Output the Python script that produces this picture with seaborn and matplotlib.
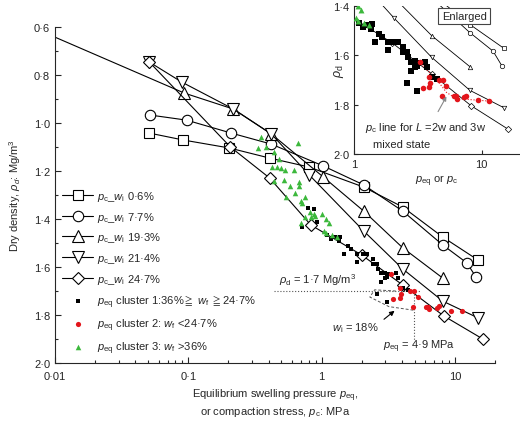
import matplotlib
matplotlib.use('Agg')
import matplotlib.pyplot as plt
import seaborn as sns
from matplotlib.ticker import FixedLocator, LogLocator, NullFormatter

sns.set_style('ticks')
plt.rcParams['font.family'] = ['Liberation Sans', 'DejaVu Sans']
plt.rcParams['mathtext.fontset'] = 'custom'
plt.rcParams['mathtext.rm'] = 'Liberation Sans'
plt.rcParams['mathtext.it'] = 'Liberation Sans:italic'
plt.rcParams['mathtext.bf'] = 'Liberation Sans:bold'
plt.rcParams['mathtext.fallback'] = 'stixsans'

# compaction curves: stress p_c (MPa) and dry density (Mg/m3)
pc_w06 = [0.051, 0.092, 0.203, 0.407, 0.80, 2.07, 4.06, 8.1, 14.9]
rho_w06 = [1.042, 1.071, 1.104, 1.146, 1.183, 1.267, 1.35, 1.475, 1.571]
pc_w77 = [0.052, 0.097, 0.21, 0.42, 1.03, 2.07, 4.06, 8.1, 12.3, 14.4]
rho_w77 = [0.967, 0.988, 1.042, 1.088, 1.179, 1.258, 1.367, 1.508, 1.583, 1.642]
pc_w193 = [0.005, 0.093, 0.218, 0.42, 1.03, 2.07, 4.06, 8.1]
rho_w193 = [0.57, 0.875, 0.942, 1.046, 1.225, 1.367, 1.52, 1.646]
pc_w214 = [0.051, 0.089, 0.218, 0.42, 0.81, 2.07, 4.06, 8.1, 14.9]
rho_w214 = [0.746, 0.829, 0.942, 1.046, 1.217, 1.45, 1.608, 1.742, 1.812]
pc_w247 = [0.051, 0.207, 0.407, 0.83, 2.0, 4.06, 8.26, 16.2]
rho_w247 = [0.746, 1.10, 1.229, 1.425, 1.55, 1.675, 1.804, 1.90]

# equilibrium swelling pressure clusters
c1_p = [0.707, 0.785, 0.87, 0.917, 1.1, 1.18, 1.26, 1.38, 1.36, 1.57, 1.65, 1.46,
        1.84, 2.05, 2.2, 1.84, 2.41, 2.41, 2.6, 2.64, 2.79, 3.0, 3.1, 2.79, 3.0,
        3.16, 3.59, 3.72, 2.6, 3.1, 4.06, 4.45]
c1_rho = [1.433, 1.354, 1.358, 1.413, 1.468, 1.485, 1.477, 1.473, 1.493, 1.514, 1.526, 1.546,
          1.546, 1.546, 1.546, 1.578, 1.566, 1.586, 1.586, 1.607, 1.627, 1.623, 1.643, 1.663, 1.647,
          1.631, 1.627, 1.647, 1.712, 1.745, 1.688, 1.696]
c2_p = [3.3, 3.9, 3.95, 3.9, 3.45, 4.6, 4.95, 5.3, 4.85, 6.1, 6.4, 6.3, 7.3, 7.6, 9.3, 11.4]
c2_rho = [1.628, 1.688, 1.712, 1.73, 1.733, 1.70, 1.70, 1.725, 1.765, 1.765, 1.777, 1.765,
          1.77, 1.763, 1.783, 1.785]
c3_p = [0.35, 0.336, 0.38, 0.436, 0.67, 0.483, 0.428, 0.459, 0.492, 0.527, 0.616, 0.443,
        0.518, 0.671, 0.671, 0.575, 0.627, 0.745, 0.536, 0.695, 0.707, 0.812, 0.871, 0.886,
        0.827, 1.0, 0.745, 0.695, 1.13, 1.035, 1.19, 1.3, 1.07, 1.07]
c3_rho = [1.06, 1.104, 1.10, 1.121, 1.083, 1.15, 1.183, 1.183, 1.188, 1.196, 1.196, 1.242,
          1.2375, 1.246, 1.2625, 1.2625, 1.292, 1.308, 1.308, 1.325, 1.333, 1.371, 1.379, 1.3875,
          1.392, 1.379, 1.392, 1.417, 1.417, 1.45, 1.467, 1.475, 1.40, 1.46]

# p_c line for L = 2w and 3w mixed state (inset)
mix_p = [3.2, 4.4, 5.3, 6.3, 11.2]
mix_rho = [1.625, 1.695, 1.75, 1.775, 1.785]

# w_i = 18% enclosure and guide lines
wi18_p = [3.6, 2.5, 2.3, 3.2, 4.9]
wi18_rho = [1.70, 1.695, 1.725, 1.765, 1.78]
rho_guide = 1.7
peq_guide = 4.9

series = [
    (pc_w06, rho_w06, 's', 7, '$p_\\mathrm{c}$_$w_\\mathrm{i}$ 0·6%'),
    (pc_w77, rho_w77, 'o', 7.5, '$p_\\mathrm{c}$_$w_\\mathrm{i}$ 7·7%'),
    (pc_w193, rho_w193, '^', 8, '$p_\\mathrm{c}$_$w_\\mathrm{i}$ 19·3%'),
    (pc_w214, rho_w214, 'v', 8, '$p_\\mathrm{c}$_$w_\\mathrm{i}$ 21·4%'),
    (pc_w247, rho_w247, 'D', 6, '$p_\\mathrm{c}$_$w_\\mathrm{i}$ 24·7%'),
]

y_ticks = [0.6, 0.8, 1.0, 1.2, 1.4, 1.6, 1.8, 2.0]
y_labels = ['0·6', '0·8', '1·0', '1·2', '1·4', '1·6', '1·8', '2·0']
x_ticks = [0.01, 0.1, 1, 10]
x_labels = ['0·01', '0·1', '1', '10']
in_y_ticks = [1.4, 1.6, 1.8, 2.0]
in_y_labels = ['1·4', '1·6', '1·8', '2·0']

red = '#e3151b'
green = '#3cb83c'

fig = plt.figure(figsize=(5.2, 4.27), dpi=100)
ax = fig.add_axes([0.1058, 0.1475, 0.8462, 0.7869])
ax.set_xscale('log')

for p, r, m, ms, lab in series:
    sns.lineplot(x=p, y=r, ax=ax, color='black', lw=0.8, marker=m, ms=ms,
                 mfc='white', mec='black', mew=0.8, label=lab, estimator=None, sort=False)

sns.scatterplot(x=c1_p, y=c1_rho, ax=ax, marker='s', s=10, color='black', linewidth=0,
                label='$p_\\mathrm{eq}$ cluster 1:36%$\\geqq$ $w_\\mathrm{f}$ $\\geqq$24·7%', zorder=3)
sns.scatterplot(x=c2_p, y=c2_rho, ax=ax, marker='o', s=14, color=red, linewidth=0,
                label='$p_\\mathrm{eq}$ cluster 2: $w_\\mathrm{f}$ <24·7%', zorder=3)
sns.scatterplot(x=c3_p, y=c3_rho, ax=ax, marker='^', s=16, color=green, linewidth=0,
                label='$p_\\mathrm{eq}$ cluster 3: $w_\\mathrm{f}$ >36%', zorder=3)

ax.plot([0.44, 5.5], [rho_guide, rho_guide], ls=':', color='#555555', lw=0.8)
ax.plot([peq_guide, peq_guide], [1.70, 1.91], ls=':', color='#555555', lw=0.8)
ax.plot(wi18_p, wi18_rho, ls='--', color='#555555', lw=0.7, dashes=(3, 2))

ax.text(0.48, 1.65, '$\\rho_\\mathrm{d}$ = 1·7 Mg/m$^3$', fontsize=8, va='center')
ax.text(1.19, 1.85, '$w_\\mathrm{i}$ = 18%', fontsize=8, va='center')
ax.annotate('', xy=(3.66, 1.775), xytext=(2.83, 1.825),
            arrowprops=dict(arrowstyle='-|>', color='black', lw=0.8, mutation_scale=7))
ax.text(2.9, 1.93, '$p_\\mathrm{eq}$ = 4·9 MPa', fontsize=8, va='center')

ax.set_xlim(0.01, 20)
ax.set_ylim(2.0, 0.6)
ax.xaxis.set_major_locator(FixedLocator(x_ticks))
ax.set_xticklabels(x_labels)
ax.xaxis.set_minor_locator(LogLocator(base=10, subs=range(2, 10), numticks=20))
ax.xaxis.set_minor_formatter(NullFormatter())
ax.yaxis.set_major_locator(FixedLocator(y_ticks))
ax.set_yticklabels(y_labels)
ax.yaxis.set_minor_locator(FixedLocator([0.7, 0.9, 1.1, 1.3, 1.5, 1.7, 1.9]))
ax.tick_params(which='both', direction='in', labelsize=8, width=0.8)
ax.tick_params(which='major', length=4)
ax.tick_params(which='minor', length=2)
ax.tick_params(axis='x', pad=6)
for s in ['top', 'right']:
    ax.spines[s].set_visible(False)
for s in ['left', 'bottom']:
    ax.spines[s].set_linewidth(0.8)
ax.set_xlabel('Equilibrium swelling pressure $p_\\mathrm{eq}$,\nor compaction stress, $p_\\mathrm{c}$: MPa',
              fontsize=8, labelpad=4, linespacing=1.1)
ax.set_ylabel('Dry density, $\\rho_d$: Mg/m$^3$', fontsize=8, labelpad=8)
ax.legend(loc='lower left', bbox_to_anchor=(0.0, 0.0), frameon=False, fontsize=8,
          handlelength=2.8, labelspacing=0.6, handletextpad=0.3, borderaxespad=0.25)

# inset: enlarged view
ins = fig.add_axes([0.6808, 0.637, 0.3192, 0.3466])
ins.set_xscale('log')
ins.patch.set_alpha(0)
for p, r, m, ms, lab in series:
    sns.lineplot(x=p, y=r, ax=ins, color='black', lw=0.6, marker=m, ms=3.2,
                 mfc='white', mec='black', mew=0.5, estimator=None, sort=False)
sns.scatterplot(x=c1_p, y=c1_rho, ax=ins, marker='s', s=14, color='black', linewidth=0, zorder=3)
sns.scatterplot(x=c2_p, y=c2_rho, ax=ins, marker='o', s=16, color=red, linewidth=0, zorder=3)
sns.scatterplot(x=c3_p, y=c3_rho, ax=ins, marker='^', s=18, color=green, linewidth=0, zorder=3)
ins.plot(mix_p, mix_rho, ls=':', color=red, lw=0.8)
ins.annotate('', xy=(5.43, 1.757), xytext=(4.45, 1.838),
             arrowprops=dict(arrowstyle='-|>', color='#888888', lw=0.8, mutation_scale=6))
ins.text(1.22, 1.89, '$p_\\mathrm{c}$ line for $L$ =2w and 3w', fontsize=8, va='center')
ins.text(1.4, 1.96, 'mixed state', fontsize=8, va='center')
ins.text(0.663, 0.932, 'Enlarged', transform=ins.transAxes, fontsize=8, ha='center', va='center',
         bbox=dict(boxstyle='square,pad=0.3', fc='white', ec='#444444', lw=0.8))
ins.set_xlim(1, 20)
ins.set_ylim(2.0, 1.4)
ins.xaxis.set_major_locator(FixedLocator([1, 10]))
ins.set_xticklabels(['1', '10'])
ins.xaxis.set_minor_locator(LogLocator(base=10, subs=range(2, 10), numticks=20))
ins.xaxis.set_minor_formatter(NullFormatter())
ins.yaxis.set_major_locator(FixedLocator(in_y_ticks))
ins.set_yticklabels(in_y_labels)
ins.tick_params(which='both', direction='in', labelsize=8, width=0.8)
ins.tick_params(which='major', length=3)
ins.tick_params(which='minor', length=0)
for s in ['top', 'right']:
    ins.spines[s].set_visible(False)
for s in ['left', 'bottom']:
    ins.spines[s].set_linewidth(0.8)
ins.set_xlabel('$p_\\mathrm{eq}$ or $p_\\mathrm{c}$', fontsize=8, labelpad=3)
ins.set_ylabel('$\\rho_\\mathrm{d}$', fontsize=9)
ins.yaxis.set_label_coords(-0.05, 0.57)

fig.savefig('out.png', dpi=100)
